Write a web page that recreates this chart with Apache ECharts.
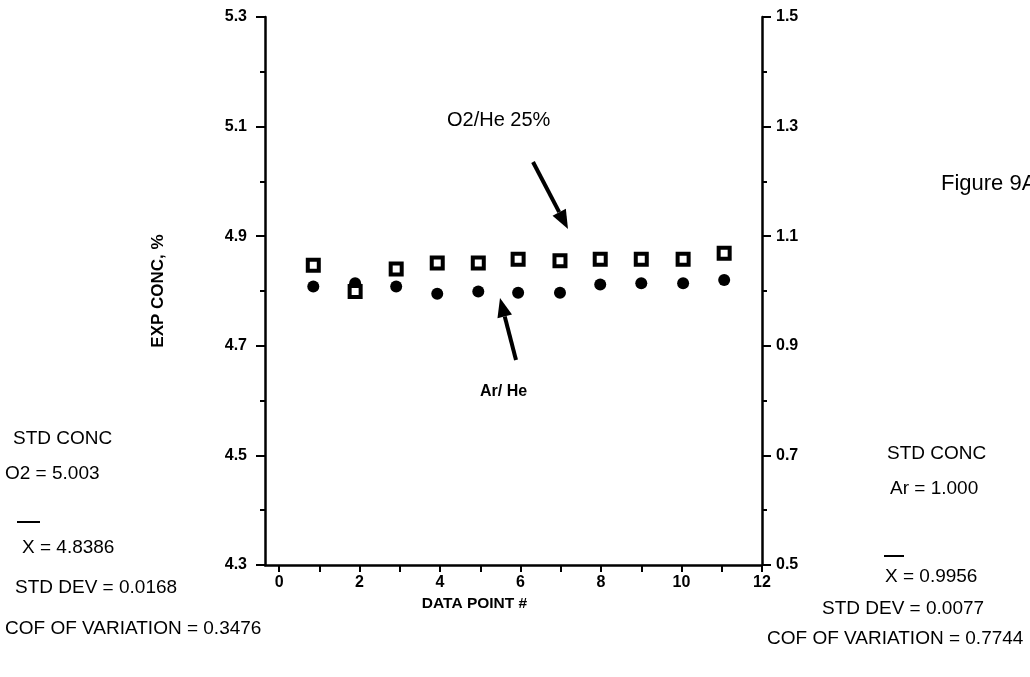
<!DOCTYPE html>
<html>
<head>
<meta charset="utf-8">
<script src="https://cdn.jsdelivr.net/npm/echarts@6/dist/echarts.min.js"></script>
<style>html,body{margin:0;padding:0;background:#fff;}#c{width:1030px;height:677px;}</style>
</head>
<body>
<div id="c"></div>
<script>
// Data
const dataPointX = [0.85, 1.89, 2.91, 3.93, 4.95, 5.94, 6.98, 7.98, 9.0, 10.04, 11.06];
const o2He = [4.847, 4.799, 4.840, 4.851, 4.851, 4.858, 4.855, 4.858, 4.858, 4.858, 4.869];
const arHe = [1.008, 1.014, 1.008, 0.995, 0.999, 0.997, 0.997, 1.012, 1.014, 1.014, 1.020];
const xTicks = [0,1,2,3,4,5,6,7,8,9,10,11,12];
const xLabels = [0,2,4,6,8,10,12];
const leftStats = ['STD CONC', 'O2 = 5.003', 'X = 4.8386', 'STD DEV = 0.0168', 'COF OF VARIATION = 0.3476'];
const rightStats = ['STD CONC', 'Ar = 1.000', 'X = 0.9956', 'STD DEV = 0.0077', 'COF OF VARIATION = 0.7744'];

const FONT = '"Liberation Sans", Arial, sans-serif';
const chart = echarts.init(document.getElementById('c'));
const axisLine = {show: true, onZero: false, lineStyle: {color: '#000', width: 2.5}};
const lbl = {color: '#000', fontFamily: FONT, fontWeight: 'bold', fontSize: 16};

function txt(x, y, s, size, weight) {
  return {type: 'text', left: x, top: y, style: {text: s, fill: '#000', font: (weight||'normal') + ' ' + (size||17) + 'px ' + FONT}};
}
function arrow(x1, y1, x2, y2) {
  const a = Math.atan2(y2 - y1, x2 - x1), L = 19, W = 7.5;
  const bx = x2 - L * Math.cos(a), by = y2 - L * Math.sin(a);
  const px = -Math.sin(a) * W, py = Math.cos(a) * W;
  return [
    {type: 'line', shape: {x1: x1, y1: y1, x2: bx, y2: by}, style: {stroke: '#000', lineWidth: 4}},
    {type: 'polygon', shape: {points: [[x2, y2], [bx + px, by + py], [bx - px, by - py]]}, style: {fill: '#000'}}
  ];
}

const option = {
  backgroundColor: '#fff',
  animation: false,
  grid: {left: 265, right: 268, top: 17, bottom: 112, containLabel: false, outerBoundsMode: 'none'},
  xAxis: {
    type: 'value', min: -0.35, max: 12,
    name: 'DATA POINT #', nameLocation: 'middle', nameGap: 30,
    nameTextStyle: {color: '#000', fontFamily: FONT, fontWeight: 'bold', fontSize: 15.5, padding: [0, 78, 0, 0]},
    axisLine: axisLine,
    axisTick: {show: true, customValues: xTicks, length: 7, lineStyle: {color: '#000', width: 2}},
    axisLabel: Object.assign({customValues: xLabels, margin: 10}, lbl),
    splitLine: {show: false}
  },
  yAxis: [{
    type: 'value', min: 4.3, max: 5.3, interval: 0.2, position: 'left',
    name: 'EXP CONC, %', nameLocation: 'middle', nameGap: 98, nameRotate: 90,
    nameTextStyle: {color: '#000', fontFamily: FONT, fontWeight: 'bold', fontSize: 17},
    axisLine: axisLine,
    axisTick: {show: true, length: 9, lineStyle: {color: '#000', width: 2}},
    minorTick: {show: true, splitNumber: 2, length: 5, lineStyle: {color: '#000', width: 2}},
    axisLabel: Object.assign({margin: 18, formatter: v => v.toFixed(1)}, lbl),
    splitLine: {show: false}
  }, {
    type: 'value', min: 0.5, max: 1.5, interval: 0.2, position: 'right',
    axisLine: axisLine,
    axisTick: {show: true, length: 9, lineStyle: {color: '#000', width: 2}},
    minorTick: {show: true, splitNumber: 2, length: 5, lineStyle: {color: '#000', width: 2}},
    axisLabel: Object.assign({margin: 14, formatter: v => v.toFixed(1)}, lbl),
    splitLine: {show: false}
  }],
  series: [{
    name: 'O2/He 25%', type: 'scatter', yAxisIndex: 0,
    data: dataPointX.map((x, i) => [x, o2He[i]]),
    symbol: 'rect', symbolSize: 11,
    itemStyle: {color: '#fff', borderColor: '#000', borderWidth: 4, opacity: 1}, z: 3
  }, {
    name: 'Ar/ He', type: 'scatter', yAxisIndex: 1,
    data: dataPointX.map((x, i) => [x, arHe[i]]),
    symbol: 'circle', symbolSize: 12,
    itemStyle: {color: '#000', opacity: 1}, z: 2
  }],
  graphic: [
    txt(447, 110, 'O2/He 25%', 20),
    txt(480, 384, 'Ar/ He', 16, 'bold'),
    txt(941, 173, 'Figure 9A', 22),
    ...arrow(533, 162, 568, 229),
    ...arrow(516, 360, 500, 298),
    txt(13, 429, leftStats[0], 19),
    txt(5, 464, leftStats[1], 19),
    {type: 'line', shape: {x1: 17, y1: 522, x2: 40, y2: 522}, style: {stroke: '#000', lineWidth: 2}},
    txt(22, 538, leftStats[2], 19),
    txt(15, 578, leftStats[3], 19),
    txt(5, 619, leftStats[4], 19),
    txt(887, 444, rightStats[0], 19),
    txt(890, 479, rightStats[1], 19),
    {type: 'line', shape: {x1: 884, y1: 556, x2: 904, y2: 556}, style: {stroke: '#000', lineWidth: 2}},
    txt(885, 567, rightStats[2], 19),
    txt(822, 599, rightStats[3], 19),
    txt(767, 629, rightStats[4], 19)
  ]
};
chart.setOption(option);
</script>
</body>
</html>
